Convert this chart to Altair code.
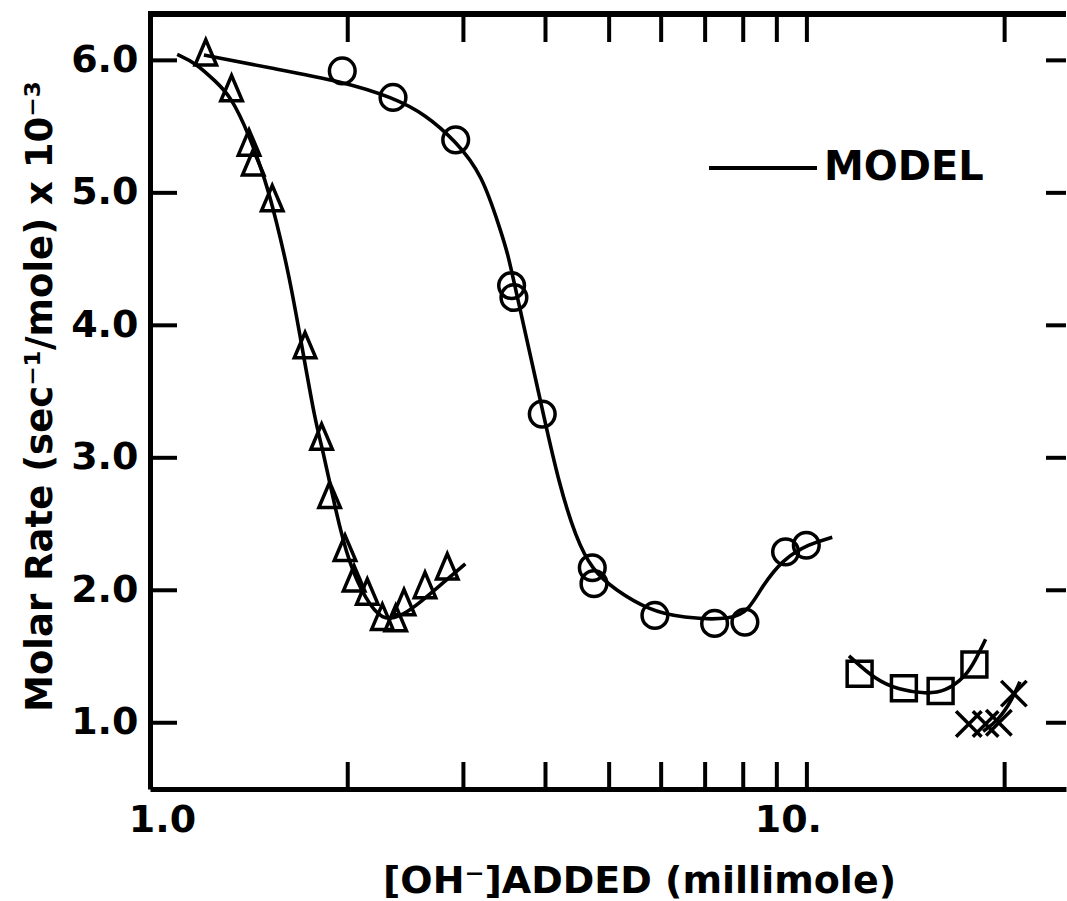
import altair as alt
import pandas as pd

# ---- data ----
tri_x = [1.216, 1.331, 1.415, 1.436, 1.535, 1.722, 1.825, 1.877, 1.981, 2.045, 2.142, 2.258, 2.366, 2.436, 2.622, 2.835]
tri_y = [6.06, 5.79, 5.38, 5.23, 4.96, 3.85, 3.16, 2.72, 2.32, 2.09, 1.99, 1.80, 1.79, 1.91, 2.04, 2.18]

circ_x = [1.962, 2.344, 2.92, 3.552, 3.581, 3.955, 4.713, 4.741, 5.87, 7.236, 8.047, 9.28, 9.98]
circ_y = [5.92, 5.72, 5.40, 4.30, 4.21, 3.33, 2.17, 2.05, 1.81, 1.75, 1.76, 2.29, 2.34]

sq_x = [12.03, 14.05, 15.98, 17.99]
sq_y = [1.37, 1.26, 1.24, 1.44]

cross_x = [17.64, 18.71, 19.6, 20.66]
cross_y = [0.99, 0.99, 1.00, 1.22]

# model curves
m_tri_x = [1.10, 1.174, 1.259, 1.327, 1.415, 1.50, 1.553, 1.627, 1.705, 1.787, 1.829, 1.917, 2.009, 2.130, 2.258, 2.40, 2.538, 2.754, 3.02]
m_tri_y = [6.045, 5.98, 5.84, 5.73, 5.44, 5.09, 4.81, 4.39, 3.83, 3.26, 3.08, 2.60, 2.20, 1.93, 1.77, 1.80, 1.88, 2.03, 2.20]

m_circ_x = [1.208, 1.535, 1.962, 2.344, 2.628, 2.92, 3.204, 3.419, 3.499, 3.644, 3.818, 3.97, 4.194, 4.446, 4.713, 5.115, 5.748, 6.46, 7.696, 8.159, 8.551, 9.17, 10.07, 10.93]
m_circ_y = [6.04, 5.94, 5.84, 5.72, 5.59, 5.39, 5.14, 4.71, 4.56, 4.16, 3.71, 3.33, 2.805, 2.40, 2.15, 2.00, 1.85, 1.79, 1.776, 1.85, 2.03, 2.23, 2.35, 2.40]

m_sq_x = [11.59, 12.72, 13.8, 15.16, 16.26, 17.44, 18.06, 18.71]
m_sq_y = [1.505, 1.324, 1.249, 1.218, 1.236, 1.349, 1.474, 1.63]

m_cross_x = [18.55, 19.6, 20.52, 21.1]
m_cross_y = [0.935, 1.023, 1.173, 1.31]

x_tick_values = [2, 3, 4, 5, 6, 7, 8, 9, 10, 20]
x_label_values = [1, 10]
x_label_texts = ["1.0", "10."]
y_tick_values = [1, 2, 3, 4, 5, 6]

legend_label = "MODEL"
x_title = "[OH\u207b]ADDED (millimole)"
y_title = "Molar Rate  (sec\u207b\u00b9/mole) x 10\u207b\u00b3"

# ---- layout ----
FONT = "DejaVu Sans"
W, H = 916, 775
xs = alt.Scale(type="log", domain=[1, 24.8], nice=False)
ys = alt.Scale(domain=[0.5, 6.35], nice=False, zero=False)

curves = pd.concat([
    pd.DataFrame({"x": m_tri_x, "y": m_tri_y, "curve": "tri"}),
    pd.DataFrame({"x": m_circ_x, "y": m_circ_y, "curve": "circ"}),
    pd.DataFrame({"x": m_sq_x, "y": m_sq_y, "curve": "sq"}),
    pd.DataFrame({"x": m_cross_x, "y": m_cross_y, "curve": "cross"}),
])
curves["key"] = legend_label

label_expr = " : ".join(
    f"datum.value == {v} ? '{t}'" for v, t in zip(x_label_values, x_label_texts)
) + " : ''"

x_axis = alt.Axis(
    values=x_label_values, labelExpr=label_expr, labelFont=FONT, labelFontSize=38,
    labelFontWeight="bold", labelColor="black", labelPadding=12, labelBaseline="top",
    labelFlush=False, labelOverlap=False, labelBound=False,
    labelOffset={"condition": {"test": "datum.value == 1", "value": 12}, "value": -19},
    ticks=False, grid=False, domain=True, domainColor="black", domainWidth=5,
    title=x_title, titleFont=FONT, titleFontSize=38, titleFontWeight="bold",
    titleColor="black", titleX=489, titleY=103, titleBaseline="alphabetic", titleAlign="center",
)
y_axis = alt.Axis(
    values=y_tick_values, format=".1f", labelFont=FONT, labelFontSize=38,
    labelFontWeight="bold", labelColor="black", labelPadding=12,
    labelFlush=False, labelOverlap=False, labelBound=False,
    ticks=False, grid=False, domain=True, domainColor="black", domainWidth=5,
    title=y_title, titleFont=FONT, titleFontSize=37, titleFontWeight="bold",
    titleColor="black", titleX=-99, titleY=382, titleAngle=270,
    titleBaseline="alphabetic", titleAlign="center",
)

XB = lambda f: alt.X(f, scale=xs)
YB = lambda f: alt.Y(f, scale=ys)

lines = alt.Chart(curves).mark_line(strokeWidth=3.6, interpolate="basis").encode(
    x=alt.X("x:Q", scale=xs, axis=x_axis),
    y=alt.Y("y:Q", scale=ys, axis=y_axis),
    detail="curve:N",
    color=alt.Color("key:N", scale=alt.Scale(range=["black"]), legend=alt.Legend(
        orient="none", legendX=557, legendY=98, title=None, symbolType="stroke",
        symbolSize=11664, symbolStrokeWidth=4, symbolStrokeColor="black",
        labelFont=FONT, labelFontSize=40, labelFontWeight="bold", labelColor="black",
        labelOffset=5, padding=0, labelLimit=0,
    )),
)


def pts(xv, yv, shape, size):
    df = pd.DataFrame({"x": xv, "y": yv})
    return alt.Chart(df).mark_point(
        shape=shape, size=size, filled=False, stroke="black", strokeWidth=3.5, opacity=1
    ).encode(x=XB("x:Q"), y=YB("y:Q"))


tri = pts(tri_x, tri_y, "M0,-1L-0.85,1L0.85,1Z", 640)
circ = pts(circ_x, circ_y, "circle", 660)
sq = pts(sq_x, sq_y, "square", 620)
crs = pts(cross_x, cross_y, "M-1,-1L1,1M-1,1L1,-1", 650)

xt = pd.DataFrame({"x": x_tick_values})
yt = pd.DataFrame({"y": y_tick_values})

top_ticks = alt.Chart(xt).mark_rule(color="black", strokeWidth=4).encode(
    x=XB("x:Q"), y=alt.value(0), y2=alt.value(28))
bot_ticks = alt.Chart(xt).mark_rule(color="black", strokeWidth=4).encode(
    x=XB("x:Q"), y=alt.value(H), y2=alt.value(H - 27))
left_ticks = alt.Chart(yt).mark_rule(color="black", strokeWidth=4).encode(
    y=YB("y:Q"), x=alt.value(0), x2=alt.value(27))
right_ticks = alt.Chart(yt).mark_rule(color="black", strokeWidth=4).encode(
    y=YB("y:Q"), x=alt.value(W - 20), x2=alt.value(W))
top_border = alt.Chart(xt).mark_rule(color="black", strokeWidth=5).encode(
    x=alt.value(-2), x2=alt.value(W), y=alt.value(0))

chart = alt.layer(
    lines, tri, circ, sq, crs, top_ticks, bot_ticks, left_ticks, right_ticks, top_border
).properties(
    width=W, height=H, autosize="none", background="white",
    padding={"left": 150, "top": 14, "right": 1, "bottom": 112},
).configure_view(strokeWidth=0, stroke=None)

chart.save("out.html", embed_options={"renderer": "svg", "actions": False})
